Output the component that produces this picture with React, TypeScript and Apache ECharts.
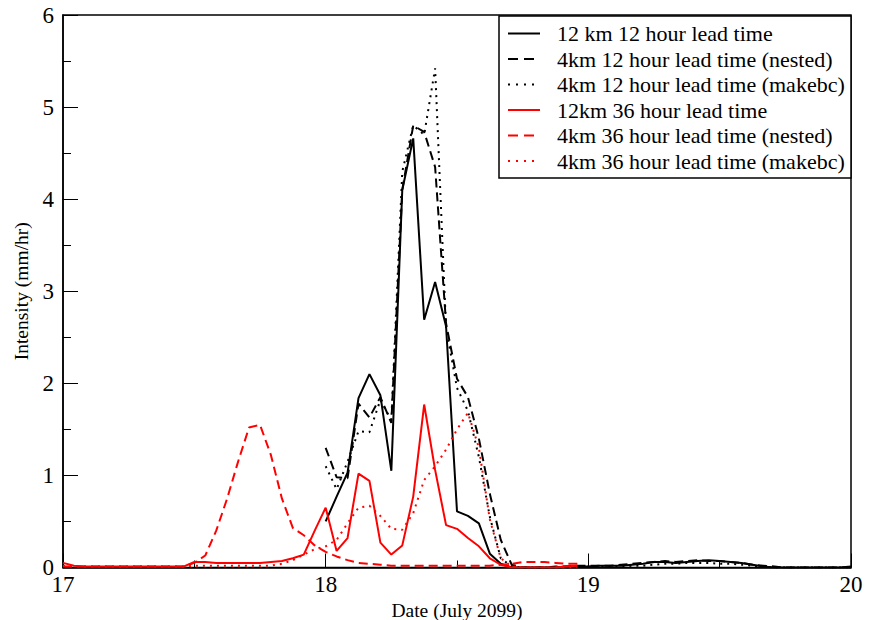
import React, { useEffect, useRef } from "react";
import * as echarts from "echarts";

// Hourly intensity (mm/hr); each series starts at the given hour after 17 July 00:00
const seriesNames = [
  "12 km 12 hour lead time",
  "4km 12 hour lead time (nested)",
  "4km 12 hour lead time (makebc)",
  "12km 36 hour lead time",
  "4km 36 hour lead time (nested)",
  "4km 36 hour lead time (makebc)",
];

const blackStartHour = 24;
const redStartHour = 0;

const km12Lead12 = [
  0.5, 0.77, 1.03, 1.84, 2.1, 1.87, 1.05, 4.1, 4.66, 2.69, 3.1, 2.62,
  0.61, 0.56, 0.48, 0.15, 0.04, 0.0, 0.0, 0.0, 0.0, 0.0, 0.01, 0.01,
  0.01, 0.02, 0.02, 0.02, 0.03, 0.04, 0.06, 0.06, 0.05, 0.06, 0.07, 0.08,
  0.07, 0.06, 0.05, 0.03, 0.01, 0.0, 0.0, 0.0, 0.0, 0.0, 0.0, 0.0, 0.01,
];
const km4Lead12Nested = [
  1.3, 0.98, 0.97, 1.78, 1.63, 1.85, 1.57, 4.1, 4.8, 4.73, 4.35, 2.65,
  2.05, 1.85, 1.4, 0.8, 0.3, 0.03, 0.0, 0.0, 0.0, 0.01, 0.01, 0.02,
  0.02, 0.02, 0.02, 0.03, 0.04, 0.05, 0.06, 0.07, 0.06, 0.07, 0.08, 0.07,
  0.07, 0.06, 0.05, 0.03, 0.02, 0.01, 0.0, 0.0, 0.0, 0.0, 0.0, 0.0, 0.0,
];
const km4Lead12Makebc = [
  1.1, 0.85, 1.15, 1.48, 1.47, 1.82, 1.6, 4.3, 4.8, 4.7, 5.42, 2.6,
  1.95, 1.7, 1.2, 0.55, 0.1, 0.01, 0.0, 0.0, 0.0, 0.0, 0.0, 0.01,
  0.01, 0.01, 0.01, 0.01, 0.02, 0.02, 0.03, 0.04, 0.04, 0.05, 0.05, 0.05,
  0.04, 0.04, 0.03, 0.02, 0.01, 0.0, 0.0, 0.0, 0.0, 0.0, 0.0, 0.0, 0.0,
];
const km12Lead36 = [
  0.05, 0.02, 0.01, 0.01, 0.01, 0.01, 0.01, 0.01, 0.01, 0.01, 0.01, 0.01,
  0.06, 0.06, 0.05, 0.05, 0.05, 0.05, 0.05, 0.06, 0.07, 0.1, 0.14, 0.4,
  0.65, 0.18, 0.32, 1.02, 0.94, 0.27, 0.14, 0.24, 0.77, 1.77, 1.06, 0.46,
  0.42, 0.32, 0.23, 0.1, 0.03, 0.0, 0.0, 0.0, 0.0, 0.0, 0.01, 0.02,
];
const km4Lead36Nested = [
  0.01, 0.01, 0.01, 0.01, 0.01, 0.01, 0.01, 0.01, 0.01, 0.01, 0.01, 0.01,
  0.05, 0.13, 0.4, 0.75, 1.15, 1.52, 1.55, 1.22, 0.75, 0.43, 0.35, 0.24,
  0.17, 0.12, 0.08, 0.05, 0.04, 0.03, 0.02, 0.02, 0.02, 0.02, 0.02, 0.02,
  0.02, 0.02, 0.02, 0.02, 0.03, 0.04, 0.06, 0.06, 0.06, 0.05, 0.04, 0.04,
];
const km4Lead36Makebc = [
  0.02, 0.01, 0.01, 0.01, 0.01, 0.01, 0.01, 0.01, 0.01, 0.01, 0.01, 0.01,
  0.02, 0.02, 0.02, 0.02, 0.02, 0.02, 0.02, 0.02, 0.04, 0.08, 0.14, 0.2,
  0.23, 0.3, 0.48, 0.65, 0.67, 0.56, 0.42, 0.41, 0.59, 0.95, 1.1, 1.28,
  1.5, 1.68, 1.3, 0.52, 0.1, 0.01, 0.0, 0.0, 0.0, 0.0, 0.0, 0.0,
];

const xTicks = [17, 18, 19, 20];
const yTicks = [0, 1, 2, 3, 4, 5, 6];

const FONT = "Liberation Serif";

function toPoints(values: number[], startHour: number): [number, number][] {
  return values.map((v, i) => [17 + (startHour + i) / 24, v]);
}

export default function App() {
  const ref = useRef<HTMLDivElement>(null);

  useEffect(() => {
    document.body.style.margin = "0";
    const chart = echarts.init(ref.current!, null, { renderer: "svg" });

    const defs: { data: number[]; start: number; color: string; dash: number[] | null }[] = [
      { data: km12Lead12, start: blackStartHour, color: "#000000", dash: null },
      { data: km4Lead12Nested, start: blackStartHour, color: "#000000", dash: [9, 5] },
      { data: km4Lead12Makebc, start: blackStartHour, color: "#000000", dash: [2, 5] },
      { data: km12Lead36, start: redStartHour, color: "#ff0000", dash: null },
      { data: km4Lead36Nested, start: redStartHour, color: "#ff0000", dash: [9, 5] },
      { data: km4Lead36Makebc, start: redStartHour, color: "#ff0000", dash: [2, 5] },
    ];
    const legendDash = [null, [10, 6], [2, 6], null, [10, 6], [2, 6]];

    const legendItems: any[] = [];
    seriesNames.forEach((name, i) => {
      const y = 33.5 + i * 25.5;
      legendItems.push({
        type: "line",
        shape: { x1: 508, y1: y, x2: 540, y2: y },
        style: {
          stroke: defs[i].color,
          lineWidth: 2,
          lineDash: legendDash[i] || undefined,
        },
        z: 11,
      });
      legendItems.push({
        type: "text",
        x: 557,
        y: y,
        style: {
          text: name,
          fontFamily: FONT,
          fontSize: 22,
          fill: "#000",
          align: "left",
          verticalAlign: "middle",
        },
        z: 11,
      });
    });

    chart.setOption({
      animation: false,
      backgroundColor: "#ffffff",
      textStyle: { fontFamily: FONT },
      grid: {
        left: 63,
        right: 26,
        top: 15,
        bottom: 52.5,
        containLabel: false,
        outerBoundsMode: "none",
        show: true,
        borderColor: "#000",
        borderWidth: 1.5,
        backgroundColor: "transparent",
      },
      graphic: [
        {
          type: "rect",
          shape: { x: 499, y: 16, width: 352, height: 162 },
          style: { fill: "#ffffff", stroke: "#000", lineWidth: 1.5 },
          z: 10,
        },
        ...legendItems,
      ],
      xAxis: {
        type: "value",
        min: xTicks[0],
        max: xTicks[xTicks.length - 1],
        interval: 1,
        name: "Date (July 2099)",
        nameLocation: "middle",
        nameGap: 28,
        nameTextStyle: { fontFamily: FONT, fontSize: 19.5, color: "#000" },
        axisLine: { show: true, lineStyle: { color: "#000", width: 1.5 } },
        axisTick: { show: true, inside: true, length: 14, lineStyle: { color: "#000", width: 1 } },
        minorTick: { show: true, splitNumber: 2, length: 7, lineStyle: { color: "#000", width: 1 } },
        splitLine: { show: false },
        axisLabel: { fontFamily: FONT, fontSize: 23, color: "#000", margin: 5 },
      },
      yAxis: {
        type: "value",
        min: yTicks[0],
        max: yTicks[yTicks.length - 1],
        interval: 1,
        name: "Intensity (mm/hr)",
        nameLocation: "middle",
        nameGap: 25,
        nameRotate: 90,
        nameTextStyle: { fontFamily: FONT, fontSize: 19.5, color: "#000" },
        axisLine: { show: true, lineStyle: { color: "#000", width: 1.5 } },
        axisTick: { show: true, inside: true, length: 15, lineStyle: { color: "#000", width: 1 } },
        minorTick: { show: true, splitNumber: 2, length: 8, lineStyle: { color: "#000", width: 1 } },
        splitLine: { show: false },
        axisLabel: { fontFamily: FONT, fontSize: 23, color: "#000", margin: 9 },
      },
      series: defs.map((d, i) => ({
        name: seriesNames[i],
        type: "line",
        data: toPoints(d.data, d.start),
        symbol: "none",
        showSymbol: false,
        z: 2,
        color: d.color,
        lineStyle: { color: d.color, width: 2, type: d.dash ? d.dash : "solid" },
      })),
    });

    return () => chart.dispose();
  }, []);

  return (
    <div
      ref={ref}
      style={{ position: "absolute", left: 0, top: 0, width: 877, height: 620 }}
    />
  );
}
